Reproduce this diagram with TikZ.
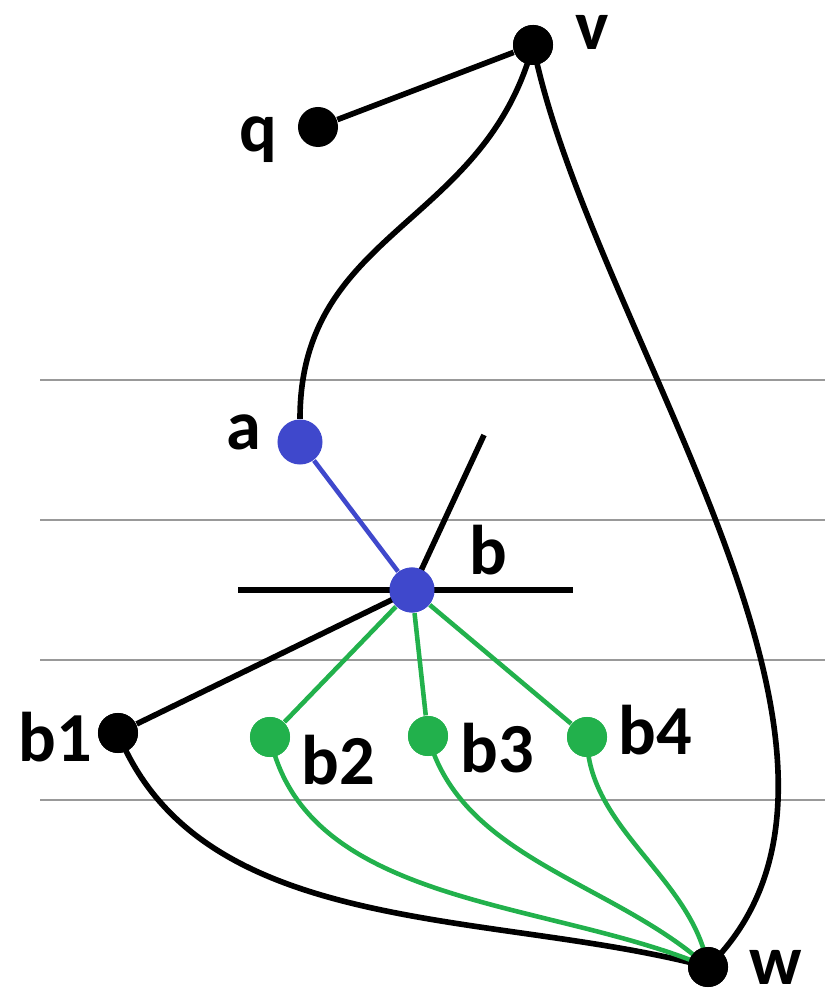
\documentclass[tikz,border=0pt]{standalone}
\usepackage{fontspec}
\setmainfont{Carlito}
\definecolor{nodeblue}{RGB}{63,72,204}
\definecolor{nodegreen}{RGB}{34,177,76}
\tikzset{
  vert/.style={circle, fill=black, inner sep=0pt, minimum size=0.4cm},
  bluevert/.style={vert, fill=nodeblue, minimum size=0.45cm},
  greenvert/.style={vert, fill=nodegreen},
  lbl/.style={font=\bfseries\fontsize{20}{24}\selectfont, inner sep=0pt},
  blk/.style={line width=1.6pt, black},
  grn/.style={line width=1.3pt, nodegreen},
  blu/.style={line width=1.3pt, nodeblue},
  rule/.style={line width=0.6pt, black!40}
}
\begin{document}
\begin{tikzpicture}[x=0.01cm, y=-0.01cm]
    \useasboundingbox (0,0) rectangle (825,998);

    % horizontal levels
    \foreach \yy in {380,520,660,800}
        \draw[rule] (40,\yy) -- (825,\yy);

    % vertices
    \node[vert] (v) at (533,45) {};
    \node[vert] (q) at (318,127) {};
    \node[bluevert] (a) at (300,442) {};
    \node[bluevert] (b) at (412,590) {};
    \node[vert] (b1) at (118,733) {};
    \node[greenvert] (b2) at (270,737) {};
    \node[greenvert] (b3) at (428,736) {};
    \node[greenvert] (b4) at (587,737) {};
    \node[vert] (w) at (708,967) {};

    \node[lbl] (vl) at (592,32) {v};
    \node[lbl] (ql) at (258,140) {q};
    \node[lbl] (al) at (244,432) {a};
    \node[lbl] (bl) at (488,550) {b};
    \node[lbl] (b1l) at (55,737) {b1};
    \node[lbl] (b2l) at (338,760) {b2};
    \node[lbl] (b3l) at (497,748) {b3};
    \node[lbl] (b4l) at (655,730) {b4};
    \node[lbl] (wl) at (776,967) {w};

    \coordinate (t) at (484,435);
    \coordinate (hl) at (238,590);
    \coordinate (hr) at (573,590);

    % edges
    \draw[blk] (hl) -- (hr);
    \draw[blk] (b.center) -- (t);
    \draw[blk] (q) -- (v);
    \draw[blk] (v.center) to[out=-105, in=90, looseness=1.1] (a);
    \draw[blk] (v.center) .. controls (590,330) and (920,760) .. (w.center);
    \draw[blk] (b.center) -- (b1);
    \draw[blk] (b1.center) to[out=-68, in=165, looseness=0.9] (w.center);
    \draw[blu] (a) -- (b);
    \foreach \n in {b2,b3,b4}
        \draw[grn] (b) -- (\n);
    \draw[grn] (b2.center) to[out=-78, in=157, looseness=0.9] (w.center);
    \draw[grn] (b3.center) to[out=-75, in=138, looseness=0.9] (w.center);
    \draw[grn] (b4.center) to[out=-90, in=100, looseness=0.9] (w.center);

    % redraw vertices on top
    \node[vert] at (v) {};
    \node[bluevert] at (b) {};
    \node[vert] at (b1) {};
    \node[greenvert] at (b2) {};
    \node[greenvert] at (b3) {};
    \node[greenvert] at (b4) {};
    \node[vert] at (w) {};
\end{tikzpicture}
\end{document}
